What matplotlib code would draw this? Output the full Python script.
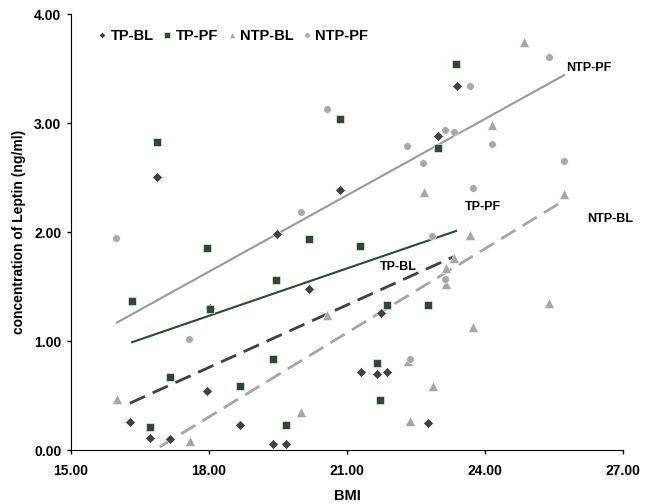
import numpy as np
import matplotlib
matplotlib.use("Agg")
import matplotlib.pyplot as plt
from matplotlib.ticker import FormatStrFormatter

plt.rcParams['font.family'] = ['Liberation Sans', 'DejaVu Sans']

# values
tp_bl_x = [16.87, 16.28, 16.72, 17.15, 17.96, 18.02, 18.67, 19.48, 20.17, 20.85,
           19.39, 19.67, 21.30, 21.65, 21.87, 21.74, 22.76, 23.39, 22.98]
tp_bl_y = [2.51, 0.26, 0.11, 0.10, 0.54, 1.30, 0.23, 1.98, 1.48, 2.39,
           0.06, 0.06, 0.72, 0.70, 0.72, 1.26, 0.25, 3.34, 2.88]

tp_pf_x = [16.87, 20.85, 23.37, 22.98, 16.33, 17.96, 18.02, 19.46, 20.17, 21.28,
           17.15, 18.67, 19.39, 16.72, 19.67, 21.87, 22.76, 21.65, 21.72]
tp_pf_y = [2.83, 3.04, 3.54, 2.77, 1.37, 1.85, 1.29, 1.56, 1.94, 1.87,
           0.67, 0.59, 0.84, 0.21, 0.23, 1.33, 1.33, 0.80, 0.46]

ntp_bl_x = [24.85, 24.15, 22.67, 25.72, 23.67, 23.33, 23.15, 23.15, 25.39, 23.74,
            22.33, 22.87, 22.37, 16.00, 17.59, 20.00, 20.57]
ntp_bl_y = [3.74, 2.98, 2.37, 2.35, 1.97, 1.76, 1.67, 1.52, 1.35, 1.13,
            0.82, 0.59, 0.27, 0.47, 0.08, 0.35, 1.24]

ntp_pf_x = [15.98, 20.57, 20.00, 25.39, 23.67, 23.13, 23.33, 22.30, 24.15, 22.65,
            25.72, 23.74, 22.85, 23.13, 22.37, 17.57]
ntp_pf_y = [1.95, 3.13, 2.18, 3.61, 3.34, 2.94, 2.92, 2.79, 2.81, 2.63,
            2.65, 2.40, 1.96, 1.57, 0.84, 1.02]

# trend lines as drawn in the picture: (x start, x end, y start, y end)
tp_bl_trend = (16.28, 23.35, 0.43, 1.78)
tp_pf_trend = (16.33, 23.37, 0.99, 2.01)
ntp_bl_trend = (16.00, 25.72, -0.21, 2.29)
ntp_pf_trend = (16.00, 25.72, 1.17, 3.44)

# label positions next to the trend lines
line_labels = [("NTP-PF", 25.76, 3.51), ("TP-PF", 23.57, 2.23),
               ("NTP-BL", 26.22, 2.12), ("TP-BL", 21.72, 1.68)]

groups = [
    ("TP-BL", tp_bl_x, tp_bl_y, tp_bl_trend, "D", "#404040", 4.8, "#404040", (0, (6, 3)), 2.0),
    ("TP-PF", tp_pf_x, tp_pf_y, tp_pf_trend, "s", "#2b4a33", 5.5, "#2b4a33", "-", 1.5),
    ("NTP-BL", ntp_bl_x, ntp_bl_y, ntp_bl_trend, "^", "#a6a6a6", 7, "#a6a6a6", (0, (6, 3)), 2.0),
    ("NTP-PF", ntp_pf_x, ntp_pf_y, ntp_pf_trend, "o", "#a9a9a9", 5.5, "#9a9a9a", "-", 1.5),
]

fig = plt.figure(figsize=(6.53, 5.04), dpi=100)
ax = fig.add_axes([0.1087, 0.107, 0.8453, 0.865])

for name, x, y, tr, m, c, ms, lc, ls, lw in groups:
    ax.plot(tr[:2], tr[2:], color=lc, ls=ls, lw=lw, zorder=2)
    ax.plot(x, y, m, color=c, ms=ms, mec="white", mew=0.4, ls="none",
            label=name, zorder=3)

for txt, lx, ly in line_labels:
    ax.text(lx, ly, txt, fontsize=9, fontweight="bold", va="center")

ax.set_xlim(15, 27)
ax.set_ylim(0, 4)
ax.set_xticks(np.arange(15, 27.1, 3))
ax.set_yticks(np.arange(0, 4.1, 1))
ax.xaxis.set_major_formatter(FormatStrFormatter("%.2f"))
ax.yaxis.set_major_formatter(FormatStrFormatter("%.2f"))
for lab in ax.get_xticklabels() + ax.get_yticklabels():
    lab.set_fontweight("bold")
ax.tick_params(direction="out", length=3, width=1, labelsize=10)
ax.tick_params(axis="x", pad=7)
ax.tick_params(axis="y", pad=4)
ax.spines["top"].set_visible(False)
ax.spines["right"].set_visible(False)
ax.set_xlabel("BMI", fontsize=10.5, fontweight="bold", labelpad=8)
ax.set_ylabel("concentration of Leptin (ng/ml)", fontsize=10, fontweight="bold", labelpad=6)

ax.legend(loc="upper left", bbox_to_anchor=(0.02, 0.995), ncol=4, frameon=False,
          handletextpad=0.05, columnspacing=0.45, handlelength=1.0,
          prop={"weight": "bold", "size": 10.5}, markerscale=0.7)

fig.savefig("out.png", dpi=100)
